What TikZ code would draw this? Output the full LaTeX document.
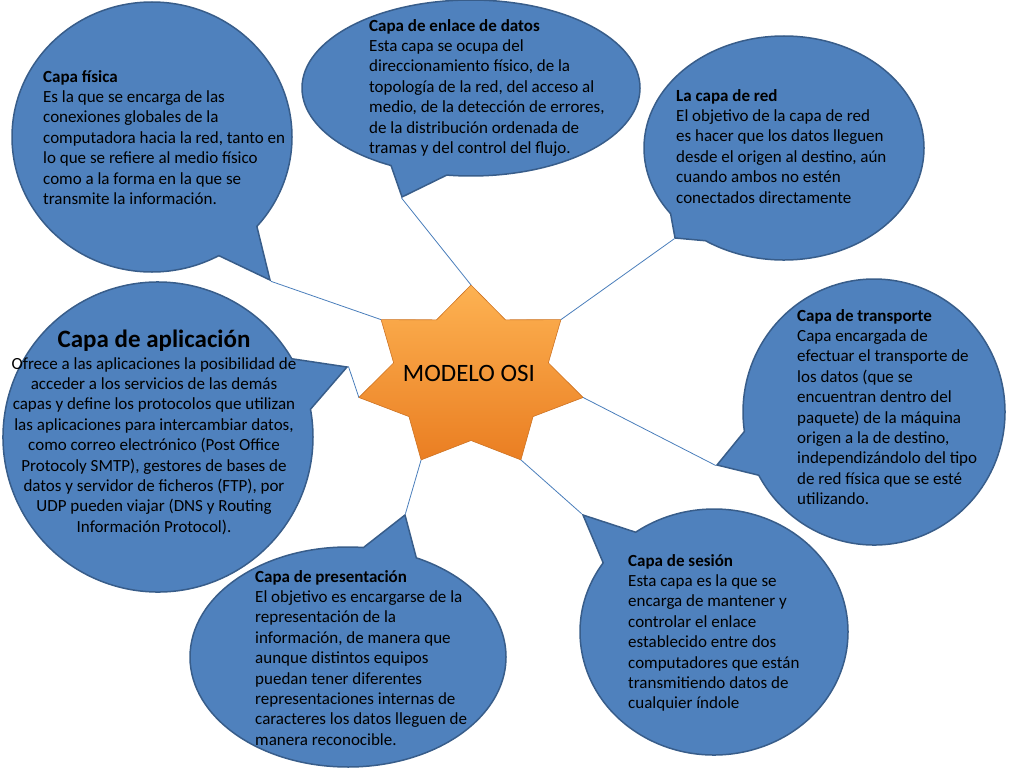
\documentclass[tikz,border=0pt]{standalone}
\usepackage{fontspec}
\setmainfont{Carlito}
\usepackage{tikz}
\usetikzlibrary{shapes.callouts}

\definecolor{bubblefill}{RGB}{79,129,189}
\definecolor{bubbleedge}{RGB}{56,93,138}
\definecolor{linkblue}{RGB}{74,126,187}
\definecolor{startop}{RGB}{253,178,82}
\definecolor{starbot}{RGB}{234,126,34}
\definecolor{staredge}{RGB}{205,115,35}

\begin{document}
\begin{tikzpicture}[x=1pt, y=-1pt,
  bubble/.style={ellipse callout, draw=bubbleedge, fill=bubblefill, line width=1.5pt, callout pointer arc=20, inner sep=0pt},
  info/.style={anchor=north west, align=left, inner sep=0pt, font=\fontsize{17}{20.4}\selectfont},
  link/.style={draw=linkblue, line width=0.8pt}]
\useasboundingbox (0,0) rectangle (1024,768);
%%%%% Bubbles %%%%%
\node[bubble, minimum width=310pt, minimum height=310pt, callout absolute pointer={(347,367)}] (aplicacion) at (158,437) {};
\node[bubble, minimum width=280pt, minimum height=270pt, callout absolute pointer={(270,280)}] (fisica) at (152,137) {};
\node[bubble, minimum width=338pt, minimum height=176pt, callout absolute pointer={(402,197)}] (enlace) at (471,88) {};
\node[bubble, minimum width=280pt, minimum height=224pt, callout absolute pointer={(675,238)}] (red) at (784,148) {};
\node[bubble, minimum width=262pt, minimum height=266pt, callout absolute pointer={(717,465)}] (transporte) at (874,412) {};
\node[bubble, minimum width=268pt, minimum height=246pt, callout absolute pointer={(583,515)}] (sesion) at (714,632) {};
\node[bubble, minimum width=316pt, minimum height=220pt, callout absolute pointer={(405,515)}] (presentacion) at (348,657) {};
%%%%% Star %%%%%
\foreach \i in {0,...,6}{
\coordinate (p\i) at ({471+115*cos(90-\i*360/7)},{377-92*sin(90-\i*360/7)});
\coordinate (q\i) at ({471+0.69*115*cos(90-(\i+0.5)*360/7)},{377-0.69*92*sin(90-(\i+0.5)*360/7)});
}
\shade[top color=startop, bottom color=starbot, draw=staredge, line width=0.6pt]
  (p0)--(q0)--(p1)--(q1)--(p2)--(q2)--(p3)--(q3)--(p4)--(q4)--(p5)--(q5)--(p6)--(q6)--cycle;
\node[font=\fontsize{25}{30}\selectfont] (osi) at (469,373) {MODELO OSI};
%%%%% Links %%%%%
\draw[link] (p0) -- (enlace.pointer);
\draw[link] (p1) -- (red.pointer);
\draw[link] (p2) -- (transporte.pointer);
\draw[link] (p3) -- (sesion.pointer);
\draw[link] (p4) -- (presentacion.pointer);
\draw[link] (p5) -- (aplicacion.pointer);
\draw[link] (p6) -- (fisica.pointer);
%%%%% Texts %%%%%
\node[info] (tfisica) at (43,70) {\textbf{Capa física}\\
Es la que se encarga de las\\
conexiones globales de la\\
computadora hacia la red, tanto en\\
lo que se refiere al medio físico\\
como a la forma en la que se\\
transmite la información.};
\node[info] (tenlace) at (369,19) {\textbf{Capa de enlace de datos}\\
Esta capa se ocupa del\\
direccionamiento físico, de la\\
topología de la red, del acceso al\\
medio, de la detección de errores,\\
de la distribución ordenada de\\
tramas y del control del flujo.};
\node[info] (tred) at (676,89) {\textbf{La capa de red}\\
El objetivo de la capa de red\\
es hacer que los datos lleguen\\
desde el origen al destino, aún\\
cuando ambos no estén\\
conectados directamente};
\node[info] (ttransporte) at (797,309) {\textbf{Capa de transporte}\\
Capa encargada de\\
efectuar el transporte de\\
los datos (que se\\
encuentran dentro del\\
paquete) de la máquina\\
origen a la de destino,\\
independizándolo del tipo\\
de red física que se esté\\
utilizando.};
\node[info] (tsesion) at (628,554) {\textbf{Capa de sesión}\\
Esta capa es la que se\\
encarga de mantener y\\
controlar el enlace\\
establecido entre dos\\
computadores que están\\
transmitiendo datos de\\
cualquier índole};
\node[info] (tpresentacion) at (255,570) {\textbf{Capa de presentación}\\
El objetivo es encargarse de la\\
representación de la\\
información, de manera que\\
aunque distintos equipos\\
puedan tener diferentes\\
representaciones internas de\\
caracteres los datos lleguen de\\
manera reconocible.};
\node[info, anchor=north, align=center] (taplicacion) at (154,330) {{\fontsize{25}{28}\selectfont\bfseries Capa de aplicación}\\[1pt]
Ofrece a las aplicaciones la posibilidad de\\
acceder a los servicios de las demás\\
capas y define los protocolos que utilizan\\
las aplicaciones para intercambiar datos,\\
como correo electrónico (Post Office\\
Protocoly SMTP), gestores de bases de\\
datos y servidor de ficheros (FTP), por\\
UDP pueden viajar (DNS y Routing\\
Información Protocol).};
\end{tikzpicture}
\end{document}
